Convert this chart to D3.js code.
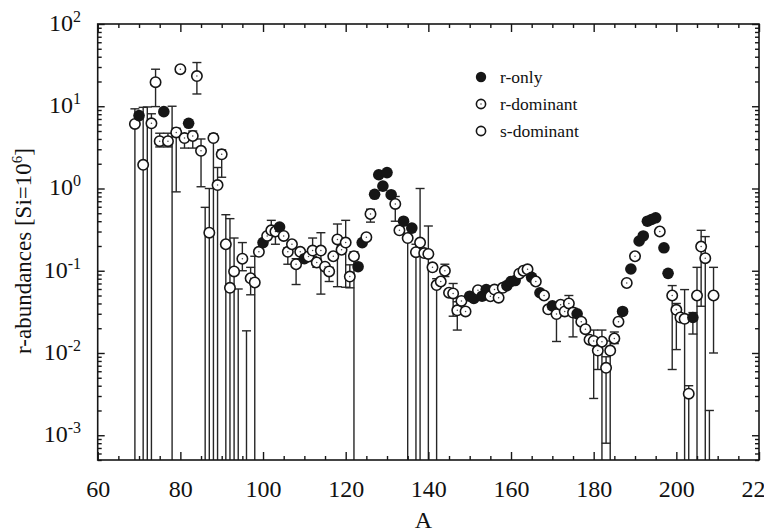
<!DOCTYPE html>
<html><head><meta charset="utf-8">
<script src="https://cdn.jsdelivr.net/npm/d3@7"></script>
<style>
body{margin:0;background:#fff}
svg{display:block}
text{font-family:"Liberation Serif","Times New Roman",serif;fill:#111}
</style>
</head><body>
<svg id="c" width="764" height="532"></svg>
<script>
// ---------------- data ----------------
const massNumbers = [
 69,70,71,72,73,74,75,76,77,78,
 79,80,81,82,83,84,85,86,87,88,
 89,90,91,92,93,94,95,96,97,98,
 99,100,101,102,103,104,105,106,107,108,
 109,110,111,112,113,114,115,116,117,118,
 119,120,121,122,123,124,125,126,127,128,
 129,130,131,132,133,134,135,136,137,138,
 139,140,141,142,143,144,145,146,147,148,
 149,150,151,152,153,154,155,156,157,158,
 159,160,161,162,163,164,165,166,167,168,
 169,170,171,172,173,174,175,176,177,178,
 179,180,181,182,183,184,185,186,187,188,
 189,190,191,192,193,194,195,196,197,198,
 199,200,201,202,203,204,205,206,207,208,
 209];
const abundances = [
 6.1,7.7,1.94,null,6.2,19.6,3.76,8.6,3.76,null,
 4.8,28.2,4.1,6.2,4.35,23.3,2.87,null,0.29,4.1,
 1.1,2.6,0.21,0.062,0.098,null,0.14,null,0.081,0.072,
 0.17,0.22,0.265,0.31,0.30,0.34,0.265,0.17,0.21,0.12,
 0.17,0.14,0.149,0.176,0.126,0.176,0.112,0.098,0.15,0.24,
 0.18,0.22,0.085,0.15,0.112,0.22,0.256,0.49,0.85,1.47,
 1.07,1.56,0.84,0.65,0.31,0.40,0.25,0.33,0.168,0.22,
 0.164,0.16,0.11,0.067,0.074,0.10,0.054,0.053,0.033,0.043,
 0.032,0.049,0.046,0.058,0.049,0.059,0.049,0.059,0.047,0.062,
 0.066,0.074,0.076,0.092,0.10,0.104,0.083,0.074,0.054,0.050,
 0.034,0.0375,0.0297,0.0386,0.032,0.040,0.031,0.030,0.024,0.0195,
 0.0145,0.014,0.0107,0.0137,0.0066,0.0107,0.015,0.024,0.032,0.071,
 0.105,0.15,0.23,0.265,0.40,0.42,0.44,0.30,0.19,0.093,
 0.050,0.0335,0.027,0.026,0.0032,0.027,0.050,0.197,0.142,null,
 0.050];
// r = r-only, rd = r-dominant, sd = s-dominant, "" = no point (error bar only)
const isotopeClass = [
 "sd","r","sd","","rd","sd","rd","r","rd","",
 "rd","rd","rd","r","rd","rd","rd","","sd","sd",
 "rd","rd","sd","sd","sd","","rd","","rd","sd",
 "rd","r","rd","rd","rd","r","rd","rd","rd","rd",
 "rd","r","rd","rd","rd","rd","rd","rd","rd","rd",
 "rd","rd","rd","sd","r","r","rd","rd","r","r",
 "r","r","r","rd","rd","r","sd","r","sd","sd",
 "rd","sd","rd","sd","rd","rd","rd","rd","rd","rd",
 "rd","r","r","rd","r","r","rd","rd","rd","rd",
 "r","r","r","rd","rd","rd","r","rd","r","rd",
 "rd","r","rd","rd","rd","rd","rd","r","rd","rd",
 "rd","rd","rd","rd","sd","sd","rd","rd","r","rd",
 "r","rd","r","r","r","r","r","rd","r","r",
 "rd","rd","rd","sd","sd","r","sd","rd","rd","",
 "sd"];
// lower end of error bar (0 = reaches below the axis, null = no bar)
const errLower = [
 0,null,0,0,0,9.9,3.2,null,3.2,0,
 0.91,26,3.1,null,3.1,14.1,1.05,0,0,0,
 0,1.37,0,0,0,0,0.10,0,0.051,0,
 null,null,null,0.26,0.21,null,null,0.12,null,0.068,
 null,null,null,0.15,0.11,0.052,null,0.074,null,0.064,
 null,0.063,0.062,0,null,null,null,0.39,null,null,
 null,null,null,0.40,null,null,0,null,0,0,
 null,0,0.10,0,null,0.085,null,0.028,0.019,null,
 null,null,null,null,null,null,null,null,null,null,
 null,null,null,null,null,null,null,null,null,null,
 null,null,0.0138,null,null,0.036,0.0157,null,null,null,
 null,0.0028,0.0063,0,0.0008,0,0.013,null,null,null,
 null,null,null,null,null,null,null,null,null,null,
 0.0063,0.011,null,0,0,0.017,0,0.037,0,0,
 0.010];
const errUpper = [
 9.3,null,9.7,9.8,8.1,28.2,4.7,null,4.7,10,
 5.4,30.5,4.6,null,5.0,34,4.0,0.59,1.0,4.6,
 1.8,2.95,0.48,0.43,0.25,0.06,0.22,0.0186,0.11,0.15,
 null,null,null,0.41,0.33,null,null,0.19,null,0.14,
 null,null,null,0.25,0.14,0.29,null,0.11,null,0.37,
 null,0.41,0.118,0.17,null,null,null,0.56,null,null,
 null,null,null,0.80,null,null,0.27,null,0.21,1.0,
 null,0.35,0.12,0.08,null,0.12,null,0.07,0.042,null,
 null,null,null,null,null,null,null,null,null,null,
 null,null,null,null,null,null,null,null,null,null,
 null,null,0.035,null,null,0.050,0.035,null,null,null,
 null,0.019,0.013,0.019,0.009,0.014,0.018,null,null,null,
 null,null,null,null,null,null,null,null,null,null,
 0.066,0.04,null,0.059,0.004,0.031,0.11,0.31,0.26,0.002,
 0.11];

const xTickValues = [60,80,100,120,140,160,180,200,220];
const yTickExponents = [2,1,0,-1,-2,-3];
const legendLabels = ["r-only","r-dominant","s-dominant"];
const legendClasses = ["r","rd","sd"];
const xTitle = "A";
const yTitle = ["r-abundances [Si=10","6","]"];

// ---------------- chart ----------------
const W = 764, H = 532;
const plot = {left:97.7, right:759, top:24, bottom:460};
const svg = d3.select("#c");
const x = d3.scaleLinear().domain([60,220]).range([plot.left, plot.right]);
const y = d3.scaleLog().domain([5e-4,100]).range([plot.bottom, plot.top]);
const INK = "#161616";

const rows = massNumbers.map((A,i)=>({A, v:abundances[i], c:isotopeClass[i], lo:errLower[i], hi:errUpper[i]}));

// error bars
const gBars = svg.append("g").attr("stroke", "#262626").attr("stroke-width", 1.4);
rows.filter(d => d.hi != null).forEach(d => {
  const xx = x(d.A);
  const yt = y(d.hi);
  const yb = d.lo > 0 ? y(d.lo) : plot.bottom;
  gBars.append("line").attr("x1", xx).attr("x2", xx).attr("y1", yt).attr("y2", yb);
  gBars.append("line").attr("x1", xx-4.5).attr("x2", xx+4.5).attr("y1", yt).attr("y2", yt);
  if (d.lo > 0) gBars.append("line").attr("x1", xx-4.5).attr("x2", xx+4.5).attr("y1", yb).attr("y2", yb);
});

// markers
function drawMarker(g, cx, cy, cls, r){
  if (cls === "r") {
    g.append("circle").attr("cx",cx).attr("cy",cy).attr("r",r+0.6).attr("fill",INK);
  } else {
    g.append("circle").attr("cx",cx).attr("cy",cy).attr("r",r).attr("fill","#fff")
      .attr("stroke",INK).attr("stroke-width",1.6);
    if (cls === "rd") g.append("circle").attr("cx",cx).attr("cy",cy).attr("r",0.75).attr("fill","#444");
  }
}
const gPts = svg.append("g");
rows.filter(d => d.v != null).forEach(d => drawMarker(gPts, x(d.A), y(d.v), d.c, 5.2));

// axes ticks
const xMinor = d3.range(65, 220, 5).filter(v => v % 20 !== 0);
const yMajor = yTickExponents.map(e => Math.pow(10, e));
const yMinor = y.ticks().filter(v => {
  const l = Math.log10(v); return Math.abs(l - Math.round(l)) > 1e-6;
});
function styleAxis(g){
  g.select(".domain").remove();
  g.selectAll(".tick line").attr("stroke", INK).attr("stroke-width", 1.4);
}
svg.append("g").attr("transform",`translate(0,${plot.bottom})`)
  .call(d3.axisBottom(x).tickValues(xTickValues).tickSize(-8).tickPadding(20).tickFormat(d3.format("d")))
  .call(styleAxis)
  .call(g => g.selectAll("text").attr("font-size", 24).attr("fill", INK)
        .attr("font-family", '"Liberation Serif","Times New Roman",serif'));
svg.append("g").attr("transform",`translate(0,${plot.bottom})`)
  .call(d3.axisBottom(x).tickValues(xMinor).tickSize(-4).tickFormat("")).call(styleAxis);
svg.append("g").attr("transform",`translate(0,${plot.top})`)
  .call(d3.axisTop(x).tickValues(xTickValues).tickSize(-8).tickFormat("")).call(styleAxis);
svg.append("g").attr("transform",`translate(0,${plot.top})`)
  .call(d3.axisTop(x).tickValues(xMinor).tickSize(-4).tickFormat("")).call(styleAxis);
svg.append("g").attr("transform",`translate(${plot.left},0)`)
  .call(d3.axisLeft(y).tickValues(yMajor).tickSize(-7).tickFormat("")).call(styleAxis);
svg.append("g").attr("transform",`translate(${plot.left},0)`)
  .call(d3.axisLeft(y).tickValues(yMinor).tickSize(-4).tickFormat("")).call(styleAxis);
svg.append("g").attr("transform",`translate(${plot.right},0)`)
  .call(d3.axisRight(y).tickValues(yMajor).tickSize(-7).tickFormat("")).call(styleAxis);
svg.append("g").attr("transform",`translate(${plot.right},0)`)
  .call(d3.axisRight(y).tickValues(yMinor).tickSize(-4).tickFormat("")).call(styleAxis);

// frame
svg.append("rect").attr("x", plot.left).attr("y", plot.top)
  .attr("width", plot.right - plot.left).attr("height", plot.bottom - plot.top)
  .attr("fill", "none").attr("stroke", INK).attr("stroke-width", 1.6);

// y tick labels 10^n
const gYl = svg.append("g");
yTickExponents.forEach(e => {
  const t = gYl.append("text").attr("x", 81).attr("y", y(Math.pow(10, e)) + 7)
    .attr("text-anchor", "end").attr("font-size", 24);
  t.append("tspan").text("10");
  t.append("tspan").attr("dy", -9).attr("font-size", 16).text(String(e));
});

// axis titles
svg.append("text").attr("x", (plot.left + plot.right)/2 - 5).attr("y", 528)
  .attr("text-anchor", "middle").attr("font-size", 24).text(xTitle);
const yt = svg.append("text").attr("transform", "translate(31,251) rotate(-90)")
  .attr("text-anchor", "middle").attr("font-size", 23);
yt.append("tspan").text(yTitle[0]);
yt.append("tspan").attr("dy", -9).attr("font-size", 15).text(yTitle[1]);
yt.append("tspan").attr("dy", 9).text(yTitle[2]);

// legend
const gLeg = svg.append("g");
legendLabels.forEach((lab, i) => {
  const cy = 77 + i * 27;
  drawMarker(gLeg, 481, cy, legendClasses[i], 4.6);
  gLeg.append("text").attr("x", 500).attr("y", cy + 6).attr("font-size", 17.5).text(lab);
});
</script>
</body></html>
